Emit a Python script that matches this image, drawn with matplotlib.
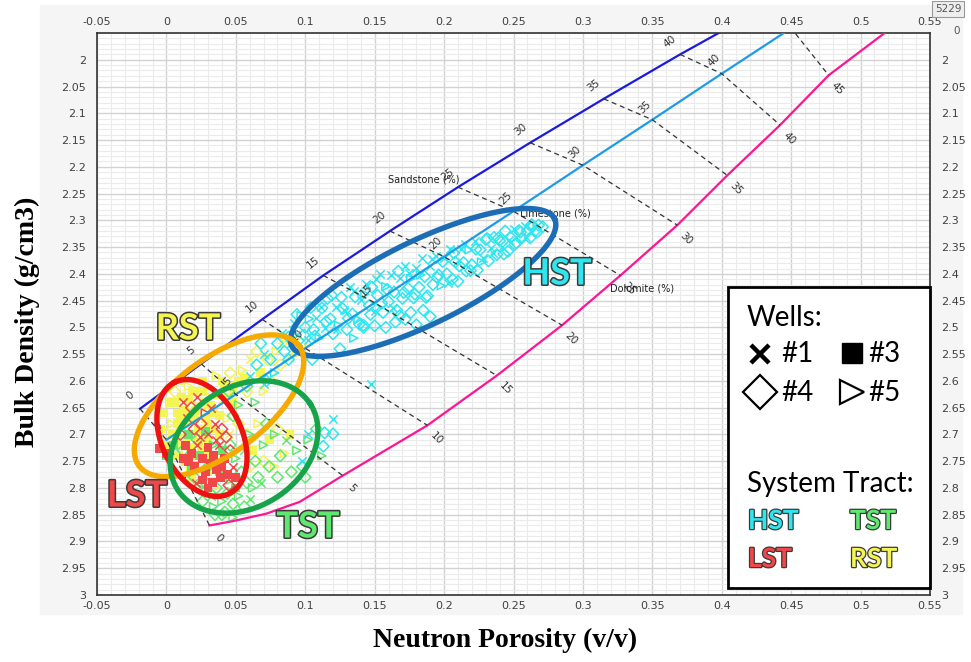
import numpy as np
import matplotlib.pyplot as plt
import matplotlib.patheffects as pe
from matplotlib.patches import Rectangle

# ---- lithology lines (porosity %, apparent neutron porosity, bulk density) ----
sand_pct = [0, 5, 10, 15, 20, 25, 30, 35, 40, 45]
sand_nphi = [-0.019, 0.025, 0.069, 0.113, 0.161, 0.210, 0.262, 0.315, 0.370, 0.427]
sand_rhob = [2.652, 2.568, 2.485, 2.403, 2.320, 2.238, 2.155, 2.073, 1.990, 1.908]

lime_pct = [0, 5, 10, 15, 20, 25, 30, 35, 40, 45]
lime_nphi = [0.000, 0.050, 0.100, 0.150, 0.200, 0.250, 0.300, 0.350, 0.400, 0.450]
lime_rhob = [2.710, 2.625, 2.539, 2.454, 2.368, 2.283, 2.197, 2.112, 2.026, 1.941]

dolo_pct = [0, 0.4, 1.2, 2.3, 5, 10, 15, 20, 25, 30, 35, 40, 45, 50]
dolo_nphi = [0.031, 0.048, 0.072, 0.096, 0.127, 0.188, 0.238, 0.285, 0.327, 0.368,
             0.404, 0.442, 0.477, 0.525]
dolo_rhob = [2.870, 2.862, 2.848, 2.826, 2.777, 2.683, 2.590, 2.496, 2.403, 2.309,
             2.216, 2.122, 2.029, 1.935]

# ---- well samples per system tract: (NPHI, RHOB, well no.) ----
hst_pts = [
    (0.088, 2.518, 4), (0.092, 2.491, 1), (0.095, 2.525, 4), (0.097, 2.478, 5), (0.100, 2.500, 4),
    (0.102, 2.523, 1), (0.104, 2.463, 4), (0.106, 2.504, 4), (0.108, 2.482, 1), (0.110, 2.520, 5),
    (0.112, 2.464, 4), (0.114, 2.502, 1), (0.116, 2.446, 4), (0.118, 2.484, 4), (0.120, 2.512, 4),
    (0.122, 2.462, 1), (0.124, 2.496, 5), (0.126, 2.444, 4), (0.128, 2.468, 1), (0.130, 2.504, 4),
    (0.132, 2.425, 1), (0.134, 2.475, 4), (0.136, 2.443, 4), (0.138, 2.485, 5), (0.140, 2.449, 1),
    (0.142, 2.496, 4), (0.144, 2.419, 1), (0.146, 2.459, 4), (0.148, 2.425, 4), (0.150, 2.470, 1),
    (0.152, 2.440, 4), (0.154, 2.400, 1), (0.156, 2.472, 4), (0.158, 2.424, 5), (0.160, 2.452, 4),
    (0.162, 2.402, 1), (0.164, 2.434, 4), (0.166, 2.468, 4), (0.168, 2.408, 1), (0.170, 2.446, 4),
    (0.172, 2.386, 1), (0.174, 2.427, 4), (0.176, 2.409, 5), (0.178, 2.445, 4), (0.180, 2.389, 1),
    (0.182, 2.425, 4), (0.184, 2.371, 1), (0.186, 2.405, 4), (0.188, 2.441, 4), (0.190, 2.386, 1),
    (0.192, 2.420, 4), (0.194, 2.366, 1), (0.196, 2.402, 4), (0.198, 2.422, 5), (0.200, 2.370, 1),
    (0.202, 2.400, 4), (0.204, 2.354, 1), (0.206, 2.410, 4), (0.208, 2.378, 4), (0.210, 2.414, 4),
    (0.212, 2.353, 1), (0.214, 2.379, 4), (0.216, 2.395, 4), (0.218, 2.355, 5), (0.220, 2.383, 4),
    (0.222, 2.339, 1), (0.224, 2.393, 4), (0.226, 2.355, 4), (0.228, 2.371, 1), (0.230, 2.336, 4),
    (0.232, 2.376, 4), (0.234, 2.352, 1), (0.236, 2.332, 4), (0.238, 2.364, 4), (0.240, 2.338, 4),
    (0.242, 2.350, 1), (0.244, 2.320, 4), (0.246, 2.358, 4), (0.248, 2.332, 4), (0.250, 2.316, 1),
    (0.252, 2.342, 4), (0.254, 2.319, 4), (0.256, 2.333, 4), (0.258, 2.311, 1), (0.260, 2.321, 4),
    (0.262, 2.333, 4), (0.264, 2.311, 4), (0.266, 2.319, 4), (0.268, 2.309, 4), (0.271, 2.312, 4),
    (0.091, 2.505, 1), (0.094, 2.476, 4), (0.099, 2.514, 4), (0.103, 2.484, 5), (0.107, 2.516, 4),
    (0.111, 2.462, 1), (0.115, 2.489, 4), (0.119, 2.440, 4), (0.123, 2.503, 1), (0.127, 2.465, 4),
    (0.131, 2.483, 4), (0.135, 2.432, 1), (0.139, 2.494, 4), (0.143, 2.438, 5), (0.147, 2.476, 4),
    (0.151, 2.410, 1), (0.155, 2.455, 4), (0.159, 2.429, 4), (0.163, 2.463, 1), (0.167, 2.395, 4),
    (0.171, 2.435, 4), (0.175, 2.398, 1), (0.179, 2.438, 4), (0.183, 2.402, 5), (0.187, 2.444, 4),
    (0.191, 2.372, 1), (0.195, 2.407, 4), (0.199, 2.377, 4), (0.203, 2.417, 1), (0.207, 2.361, 4),
    (0.211, 2.385, 4), (0.215, 2.344, 1), (0.219, 2.394, 4), (0.223, 2.354, 4), (0.227, 2.378, 5),
    (0.231, 2.334, 4), (0.235, 2.361, 1), (0.239, 2.333, 4), (0.243, 2.363, 4), (0.247, 2.337, 1),
    (0.251, 2.345, 4), (0.255, 2.322, 4), (0.259, 2.332, 1), (0.263, 2.308, 4), (0.267, 2.322, 4),
    (0.142, 2.500, 4), (0.150, 2.497, 4), (0.158, 2.500, 4), (0.165, 2.490, 4), (0.168, 2.478, 4),
    (0.172, 2.485, 4), (0.176, 2.472, 4), (0.180, 2.495, 4), (0.185, 2.468, 4), (0.190, 2.480, 4),
    (0.060, 2.590, 1), (0.065, 2.570, 4), (0.068, 2.530, 4), (0.070, 2.550, 1), (0.072, 2.600, 4),
    (0.075, 2.560, 4), (0.078, 2.585, 5), (0.080, 2.530, 4), (0.083, 2.510, 1), (0.085, 2.545, 4),
    (0.088, 2.560, 4), (0.090, 2.530, 1),
    (0.102, 2.699, 1), (0.113, 2.722, 4), (0.114, 2.697, 4), (0.120, 2.699, 4), (0.120, 2.671, 1),
    (0.147, 2.605, 1), (0.098, 2.750, 1), (0.105, 2.560, 4), (0.125, 2.540, 4), (0.135, 2.520, 5),
]

rst_pts = [
    (-0.002, 2.660, 3), (0.000, 2.700, 4), (0.002, 2.640, 3), (0.004, 2.680, 5), (0.005, 2.720, 3),
    (0.006, 2.620, 4), (0.008, 2.660, 3), (0.009, 2.740, 3), (0.010, 2.690, 5), (0.011, 2.630, 3),
    (0.012, 2.710, 4), (0.013, 2.655, 3), (0.014, 2.750, 3), (0.015, 2.680, 3), (0.016, 2.610, 5),
    (0.017, 2.725, 3), (0.018, 2.645, 4), (0.019, 2.700, 3), (0.020, 2.670, 3), (0.021, 2.740, 5),
    (0.022, 2.620, 3), (0.023, 2.690, 3), (0.024, 2.650, 4), (0.003, 2.740, 3), (0.007, 2.700, 3),
    (0.013, 2.600, 5), (0.017, 2.765, 3), (-0.004, 2.690, 3),
    (0.026, 2.620, 3), (0.028, 2.670, 3), (0.032, 2.645, 3), (0.034, 2.690, 3), (0.036, 2.625, 3),
    (0.038, 2.665, 3), (0.040, 2.600, 3), (0.006, 2.640, 3), (0.010, 2.665, 3), (0.016, 2.635, 3),
    (0.019, 2.620, 3), (0.021, 2.655, 3), (0.023, 2.715, 3), (0.004, 2.700, 3), (0.011, 2.720, 3),
    (0.015, 2.705, 3), (0.001, 2.720, 3), (0.008, 2.680, 3), (0.027, 2.700, 3), (0.025, 2.730, 3),
    (0.044, 2.630, 3), (0.048, 2.615, 3), (0.052, 2.600, 3), (0.056, 2.595, 3),
    (0.026, 2.600, 3), (0.028, 2.640, 5), (0.030, 2.680, 3), (0.032, 2.620, 4), (0.034, 2.660, 3),
    (0.036, 2.590, 5), (0.038, 2.700, 3), (0.040, 2.635, 1), (0.042, 2.605, 3), (0.044, 2.670, 5),
    (0.046, 2.585, 4), (0.048, 2.640, 3), (0.050, 2.610, 5), (0.052, 2.680, 4), (0.030, 2.710, 3),
    (0.045, 2.700, 1),
    (0.055, 2.580, 5), (0.058, 2.620, 4), (0.060, 2.560, 1), (0.062, 2.600, 5), (0.065, 2.545, 4),
    (0.068, 2.585, 3), (0.070, 2.620, 5), (0.073, 2.560, 4), (0.076, 2.590, 1), (0.079, 2.545, 5),
    (0.082, 2.570, 4), (0.085, 2.530, 5), (0.088, 2.555, 1), (0.091, 2.525, 4), (0.094, 2.550, 5),
    (0.097, 2.530, 4),
    (0.058, 2.700, 4), (0.062, 2.730, 3), (0.066, 2.680, 5), (0.070, 2.750, 4), (0.074, 2.710, 3),
    (0.080, 2.690, 4), (0.085, 2.735, 5), (0.089, 2.700, 3), (0.060, 2.760, 4), (0.078, 2.760, 5),
    (0.018, 2.780, 3), (0.024, 2.795, 4), (0.030, 2.770, 3), (0.035, 2.800, 5), (0.028, 2.740, 3),
    (0.040, 2.750, 4),
]

lst_pts = [
    (0.012, 2.640, 1), (0.018, 2.650, 4), (0.022, 2.630, 1), (0.028, 2.660, 5), (0.015, 2.670, 1),
    (0.025, 2.680, 4), (0.032, 2.650, 1), (0.020, 2.690, 4), (0.035, 2.680, 1), (0.010, 2.700, 4),
    (0.030, 2.700, 1), (0.040, 2.690, 4),
    (0.014, 2.720, 3), (0.018, 2.735, 3), (0.022, 2.720, 1), (0.026, 2.745, 3), (0.030, 2.725, 3),
    (0.034, 2.740, 3), (0.038, 2.720, 1), (0.042, 2.745, 3), (0.046, 2.730, 4), (0.016, 2.750, 3),
    (0.020, 2.760, 3), (0.024, 2.705, 1), (0.028, 2.770, 3), (0.032, 2.755, 3), (0.036, 2.765, 3),
    (0.040, 2.760, 3), (0.044, 2.775, 3), (0.048, 2.760, 1), (0.026, 2.785, 3), (0.033, 2.790, 3),
    (0.039, 2.780, 3), (0.045, 2.795, 4), (0.050, 2.780, 3), (0.021, 2.790, 1), (0.036, 2.710, 1),
    (0.043, 2.705, 4), (0.012, 2.745, 3), (0.030, 2.800, 3), (-0.005, 2.727, 3), (0.000, 2.735, 3),
]

tst_pts = [
    (0.020, 2.780, 4), (0.024, 2.800, 5), (0.028, 2.790, 4), (0.032, 2.815, 1), (0.036, 2.800, 4),
    (0.040, 2.825, 5), (0.044, 2.810, 4), (0.048, 2.830, 4), (0.052, 2.815, 5), (0.056, 2.835, 4),
    (0.060, 2.820, 1), (0.026, 2.825, 4), (0.034, 2.835, 5), (0.042, 2.845, 4), (0.050, 2.800, 3),
    (0.058, 2.790, 4), (0.046, 2.785, 5), (0.038, 2.770, 3), (0.030, 2.760, 4), (0.054, 2.770, 4),
    (0.062, 2.800, 5), (0.066, 2.780, 4), (0.040, 2.850, 4), (0.048, 2.855, 5), (0.035, 2.850, 4),
    (0.016, 2.700, 3), (0.022, 2.710, 4), (0.028, 2.695, 3), (0.034, 2.720, 5), (0.040, 2.730, 3),
    (0.046, 2.720, 4), (0.050, 2.745, 5), (0.024, 2.740, 3), (0.018, 2.760, 3), (0.012, 2.730, 4),
    (0.000, 2.740, 3), (0.005, 2.720, 3),
    (0.064, 2.750, 4), (0.070, 2.720, 5), (0.074, 2.760, 4), (0.078, 2.700, 5), (0.082, 2.740, 4),
    (0.086, 2.710, 1), (0.090, 2.770, 4), (0.094, 2.730, 5), (0.098, 2.760, 4), (0.102, 2.710, 5),
    (0.108, 2.690, 4), (0.112, 2.740, 5), (0.068, 2.790, 1), (0.080, 2.780, 4), (0.072, 2.680, 4),
    (0.060, 2.700, 5), (0.100, 2.780, 4), (0.056, 2.730, 1),
    (0.045, 2.620, 4), (0.052, 2.645, 5), (0.058, 2.610, 4), (0.064, 2.640, 5), (0.070, 2.605, 1),
    (0.048, 2.665, 4),
]

tract_colors = {'HST': '#2ee6f0', 'TST': '#5fe870', 'LST': '#f04848', 'RST': '#f4f452'}
ring_colors = {'HST': '#1c6db5', 'TST': '#16a34a', 'LST': '#ee1111', 'RST': '#f6aa00'}
# ellipse centre (NPHI, RHOB), semi-axes in pixels, tilt in degrees
rings = {
    'HST': (0.1849, 2.416, 146, 42, 25.8),
    'RST': (0.0379, 2.6466, 100, 47, 37),
    'LST': (0.0256, 2.7066, 62, 40, 116),
    'TST': (0.0559, 2.7234, 79, 60, 33),
}

W, H = 971, 662
L, R, T, B = 97, 930, 33, 595
fig = plt.figure(figsize=(W / 100, H / 100), dpi=100)
fig.patches.append(Rectangle((40 / W, 1 - 614 / H), 922 / W, 609 / H,
                             transform=fig.transFigure, color='#f5f5f5', zorder=-10))
ax = fig.add_axes([L / W, 1 - B / H, (R - L) / W, (B - T) / H])
ax.set_xlim(-0.05, 0.55)
ax.set_ylim(3.0, 1.95)
px_x = (R - L) / 0.6
px_y = (B - T) / 1.05


def afr(px, py):
    return (px - L) / (R - L), (B - py) / (B - T)


# ticks and grid
xt = np.round(np.arange(-0.05, 0.551, 0.05), 2)
yt = np.round(np.arange(2.0, 3.001, 0.05), 2)
ax.set_xticks(xt)
ax.set_xticklabels([f"{v:g}" for v in xt])
ax.set_yticks(yt)
ax.set_yticklabels([f"{v:g}" for v in yt])
ax.set_xticks(np.arange(-0.05, 0.55, 0.01), minor=True)
ax.set_yticks(np.arange(1.95, 3.0, 0.01), minor=True)
ax.grid(which='major', color='#d2d2d2', lw=1.0)
ax.grid(which='minor', color='#ebebeb', lw=0.8)
ax.set_axisbelow(True)
ax.tick_params(which='both', length=0, labelsize=8, labelcolor='#404040',
               top=True, right=True, labeltop=True, labelright=True)
ax.tick_params(axis='x', which='major', pad=4)
ax.tick_params(axis='y', which='major', pad=8)
for sp in ax.spines.values():
    sp.set_color('#333333')
    sp.set_linewidth(1.2)

# samples
well_marker = {1: 'x', 3: 's', 4: 'D', 5: '>'}
tract_pts = {'HST': hst_pts, 'TST': tst_pts, 'LST': lst_pts, 'RST': rst_pts}
for name in ['RST', 'TST', 'LST', 'HST']:
    arr = np.array(tract_pts[name])
    col = tract_colors[name]
    for w, m in well_marker.items():
        sel = arr[arr[:, 2] == w]
        if len(sel) == 0:
            continue
        if w == 1:
            ax.scatter(sel[:, 0], sel[:, 1], marker='x', s=36, c=col, linewidths=1.1, zorder=2)
        elif w == 3:
            ax.scatter(sel[:, 0], sel[:, 1], marker='s', s=40, c=col, edgecolors='none', zorder=2)
        else:
            ax.scatter(sel[:, 0], sel[:, 1], marker=m, s=34, facecolors='none',
                       edgecolors=col, linewidths=1.1, zorder=2)

# lithology lines
ax.plot(sand_nphi, sand_rhob, color='#1a1ae0', lw=1.6, zorder=3)
ax.plot(lime_nphi, lime_rhob, color='#1e9be8', lw=1.6, zorder=3)
ax.plot(dolo_nphi, dolo_rhob, color='#ff1493', lw=1.6, zorder=3)

# equal-porosity connectors and scale numbers
for p in range(0, 55, 5):
    xs, ys = [], []
    for pct, nx, ny in [(sand_pct, sand_nphi, sand_rhob), (lime_pct, lime_nphi, lime_rhob),
                        (dolo_pct, dolo_nphi, dolo_rhob)]:
        if p in pct:
            i = pct.index(p)
            xs.append(nx[i])
            ys.append(ny[i])
    if len(xs) > 1:
        ax.plot(xs, ys, color='#333333', lw=0.9, ls=(0, (4, 3)), zorder=3)

num_style = dict(fontsize=7.5, color='#333333', ha='center', va='center',
                 textcoords='offset pixels', annotation_clip=True, zorder=4)
for p, nx, ny in zip(sand_pct, sand_nphi, sand_rhob):
    ax.annotate(str(p), (nx, ny), xytext=(-10, 13), rotation=38, **num_style)
for p, nx, ny in zip(lime_pct, lime_nphi, lime_rhob):
    ax.annotate(str(p), (nx, ny), xytext=(-8, 13), rotation=45, **num_style)
for p, nx, ny in zip(dolo_pct, dolo_nphi, dolo_rhob):
    if p % 5 == 0:
        ax.annotate(str(p), (nx, ny), xytext=(9, -13), rotation=-45, **num_style)

ax.annotate('Sandstone (%)', (sand_nphi[5], sand_rhob[5]), xytext=(2, 3),
            textcoords='offset pixels', fontsize=7, color='#222222', ha='right', va='bottom', zorder=4)
ax.annotate('Limestone (%)', (lime_nphi[5], lime_rhob[5]), xytext=(6, -2),
            textcoords='offset pixels', fontsize=7, color='#222222', ha='left', va='center', zorder=4)
ax.annotate('Dolomite (%)', (dolo_nphi[8], dolo_rhob[8]), xytext=(-10, -8),
            textcoords='offset pixels', fontsize=7, color='#222222', ha='left', va='top', zorder=4)

# system tract rings
t = np.linspace(0, 2 * np.pi, 300)
for name, (cx, cy, a, b, ang) in rings.items():
    th = np.deg2rad(ang)
    u, v = a * np.cos(t), b * np.sin(t)
    ex = cx + (u * np.cos(th) - v * np.sin(th)) / px_x
    ey = cy - (u * np.sin(th) + v * np.cos(th)) / px_y
    ax.plot(ex, ey, color=ring_colors[name], lw=3.9, zorder=5)

outline = [pe.withStroke(linewidth=2.2, foreground='#3a3a3a')]
big_lbl = {'HST': (557, 274), 'RST': (188, 329), 'LST': (137, 496), 'TST': (308, 527)}
for name, (px, py) in big_lbl.items():
    ax.text(*afr(px, py), name, transform=ax.transAxes, fontsize=26, family='Lato',
            fontweight='bold', color=tract_colors[name], ha='center', va='center',
            path_effects=outline, zorder=6)

# legend box
x0, y0 = afr(728, 588)
x1, y1 = afr(930, 287)
ax.add_patch(Rectangle((x0, y0), x1 - x0, y1 - y0, transform=ax.transAxes, fc='white',
                       ec='black', lw=2, zorder=7, clip_on=False))
txt = dict(transform=ax.transAxes, family='Lato', color='black', va='center', ha='left', zorder=8)
ax.text(*afr(747, 318), 'Wells:', fontsize=20, **txt)
mk = dict(transform=ax.transAxes, color='black', zorder=8, clip_on=False, ls='none')
ax.plot(*afr(760, 354), marker='x', ms=13, mew=3.2, **mk)
ax.plot(*afr(852, 353), marker='s', ms=14, **mk)
ax.plot(*afr(760, 392), marker='D', ms=17, mfc='none', mew=1.6, **mk)
ax.plot(*afr(852, 392), marker='>', ms=17, mfc='none', mew=1.6, **mk)
ax.text(*afr(781, 354), '#1', fontsize=20, **txt)
ax.text(*afr(868, 354), '#3', fontsize=20, **txt)
ax.text(*afr(781, 393), '#4', fontsize=20, **txt)
ax.text(*afr(868, 393), '#5', fontsize=20, **txt)
ax.text(*afr(747, 484), 'System Tract:', fontsize=20, **txt)
leg_lbl = {'HST': (748, 521), 'TST': (850, 521), 'LST': (748, 559), 'RST': (850, 559)}
for name, (px, py) in leg_lbl.items():
    ax.text(*afr(px, py), name, fontsize=19, fontweight='bold',
            path_effects=[pe.withStroke(linewidth=1.8, foreground='#3a3a3a')],
            **{**txt, 'color': tract_colors[name]})

# axis titles
fig.text(505 / W, 1 - 640 / H, 'Neutron Porosity (v/v)', ha='center', va='center',
         fontsize=20, fontweight='bold', family='Liberation Serif')
fig.text(27 / W, 1 - 322 / H, 'Bulk Density (g/cm3)', ha='center', va='center', rotation=90,
         fontsize=20, fontweight='bold', family='Liberation Serif')

fig.text(948 / W, 1 - 9 / H, '5229', fontsize=7.5, color='#555555', ha='center', va='center',
         bbox=dict(boxstyle='square,pad=0.25', fc='#eeeeee', ec='#999999', lw=0.8))
fig.text(957 / W, 1 - 31 / H, '0', fontsize=7.5, color='#555555', ha='center', va='center')

fig.savefig('out.png', dpi=100)
